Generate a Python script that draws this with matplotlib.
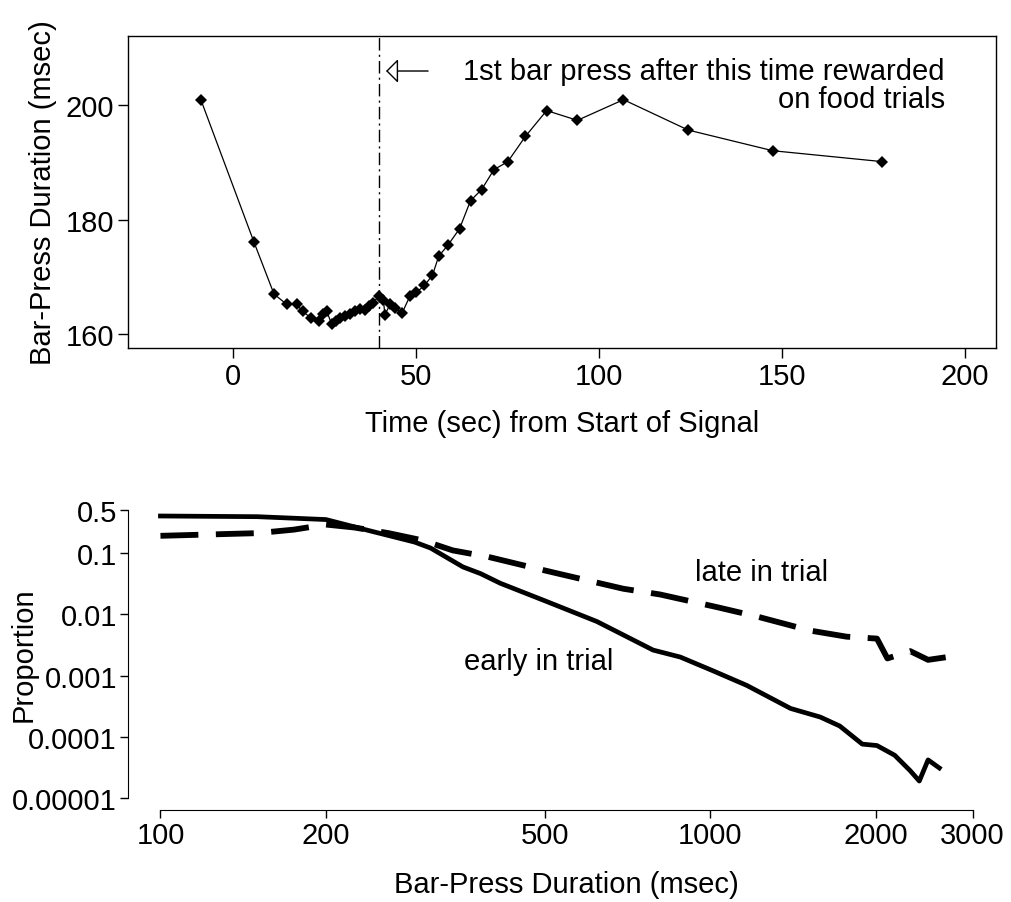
import numpy as np
import matplotlib
matplotlib.use('Agg')
import matplotlib.pyplot as plt
import matplotlib.ticker as mticker

plt.rcParams['font.family'] = ['Liberation Sans', 'DejaVu Sans']
FS = 21

# top panel: mean bar-press duration vs time from start of signal
TIME_SEC = [-8.8, 5.7, 11.2, 14.7, 17.4, 19.0, 21.2, 23.6, 24.5, 25.6, 27.0,
            28.1, 29.2, 30.7, 32.0, 33.4, 34.7, 36.1, 37.2, 38.3, 39.8, 41.1,
            41.5, 42.9, 44.3, 46.2, 48.3, 50.1, 52.3, 54.5, 56.2, 58.8, 61.9,
            64.9, 67.9, 71.3, 75.1, 79.9, 85.7, 94.1, 106.7, 124.4, 147.5,
            177.4]
DURATION_MS = [200.9, 176.1, 167.0, 165.2, 165.2, 164.0, 162.9, 162.3, 163.5,
               164.0, 161.7, 162.3, 162.9, 163.1, 163.5, 164.0, 164.4, 164.3,
               165.0, 165.4, 166.7, 165.9, 163.4, 165.2, 164.5, 163.7, 166.6,
               167.3, 168.5, 170.3, 173.6, 175.6, 178.4, 183.3, 185.2, 188.7,
               190.1, 194.5, 199.0, 197.3, 200.9, 195.6, 192.0, 190.1]
REWARD_TIME = 40
TOP_YTICKS = [160, 180, 200]
TOP_XTICKS = [0, 50, 100, 150, 200]

# bottom panel: survivor proportions of bar-press durations
EARLY_X = [100, 150, 200, 240, 290, 310, 355, 382, 415, 505, 622, 787, 882,
           1010, 1165, 1400, 1585, 1720, 1890, 2010, 2165, 2310, 2400, 2490,
           2610]
EARLY_Y = [0.40, 0.39, 0.35, 0.23, 0.15, 0.12, 0.059, 0.046, 0.032, 0.016,
           0.0076, 0.0026, 0.0020, 0.0012, 0.00069, 0.00029, 0.00021,
           0.00015, 0.000076, 0.000072, 0.000050, 0.000028, 0.000019,
           0.000042, 0.000031]
LATE_X = [100, 150, 175, 200, 225, 260, 300, 340, 395, 470, 540, 695, 810,
          1030, 1220, 1520, 1770, 2010, 2100, 2310, 2490, 2700, 2870]
LATE_Y = [0.19, 0.21, 0.24, 0.29, 0.26, 0.21, 0.16, 0.11, 0.086, 0.059,
          0.044, 0.026, 0.021, 0.013, 0.0091, 0.0054, 0.0043, 0.0040, 0.0019,
          0.0025, 0.0018, 0.0020, 0.0018]
BOT_XTICKS = [100, 200, 500, 1000, 2000, 3000]
BOT_YTICKS = [0.5, 0.1, 0.01, 0.001, 0.0001, 0.00001]
BOT_YLABELS = ['0.5', '0.1', '0.01', '0.001', '0.0001', '0.00001']

fig = plt.figure(figsize=(10.12, 9.03), dpi=100)

# ---- top panel
ax1 = fig.add_axes([0.1265, 0.6135, 0.8577, 0.3455])
ax1.plot(TIME_SEC, DURATION_MS, color='black', lw=0.9, marker='D',
         markersize=6, markeredgewidth=0)
ax1.axvline(REWARD_TIME, color='black', lw=1.0,
            linestyle=(0, (9, 3, 1.5, 3)))
ax1.annotate('', xy=(41.8, 205.9), xytext=(53.3, 205.9),
             arrowprops=dict(arrowstyle='-|>,head_length=0.75,head_width=0.75',
                             fc='white', ec='black', lw=1.0,
                             shrinkA=0, shrinkB=0))
ax1.text(194.5, 205.9, '1st bar press after this time rewarded',
         ha='right', va='center', fontsize=FS)
ax1.text(194.5, 201.0, 'on food trials', ha='right', va='center', fontsize=FS)
ax1.set_xlim(-28.7, 208.5)
ax1.set_ylim(157.6, 212.0)
ax1.set_xticks(TOP_XTICKS)
ax1.set_yticks(TOP_YTICKS)
ax1.tick_params(labelsize=FS, length=7, width=1, pad=3)
for sp in ax1.spines.values():
    sp.set_linewidth(1)
ax1.set_xlabel('Time (sec) from Start of Signal', fontsize=FS, labelpad=14)
ax1.set_ylabel('Bar-Press Duration (msec)', fontsize=FS, labelpad=6)

# ---- bottom panel
ax2 = fig.add_axes([0.1265, 0.1023, 0.8666, 0.3445])
ax2.plot(EARLY_X, EARLY_Y, color='black', lw=3.4, solid_joinstyle='round')
ax2.plot(LATE_X, LATE_Y, color='black', lw=4.2, dashes=(6.5, 3))
ax2.set_xscale('log')
ax2.set_yscale('log')
ax2.set_xlim(10 ** (2 - 0.059), 10 ** (np.log10(3000) + 0.059))
ax2.set_ylim(10 ** (-5 - 0.188), 10 ** (np.log10(0.5) + 0.188))
ax2.set_xticks(BOT_XTICKS)
ax2.set_xticklabels([str(v) for v in BOT_XTICKS])
ax2.set_yticks(BOT_YTICKS)
ax2.set_yticklabels(BOT_YLABELS)
ax2.xaxis.set_minor_locator(mticker.NullLocator())
ax2.yaxis.set_minor_locator(mticker.NullLocator())
ax2.tick_params(labelsize=FS, length=6, width=1, pad=2)
ax2.spines['top'].set_visible(False)
ax2.spines['right'].set_visible(False)
ax2.spines['left'].set_bounds(0.00001, 0.5)
ax2.spines['bottom'].set_bounds(100, 3000)
ax2.text(1239, 0.049, 'late in trial', ha='center', va='center', fontsize=FS)
ax2.text(487, 0.0017, 'early in trial', ha='center', va='center', fontsize=FS)
ax2.set_xlabel('Bar-Press Duration (msec)', fontsize=FS, labelpad=15)
ax2.set_ylabel('Proportion', fontsize=FS, labelpad=-18)

fig.savefig('out.png', dpi=100)
